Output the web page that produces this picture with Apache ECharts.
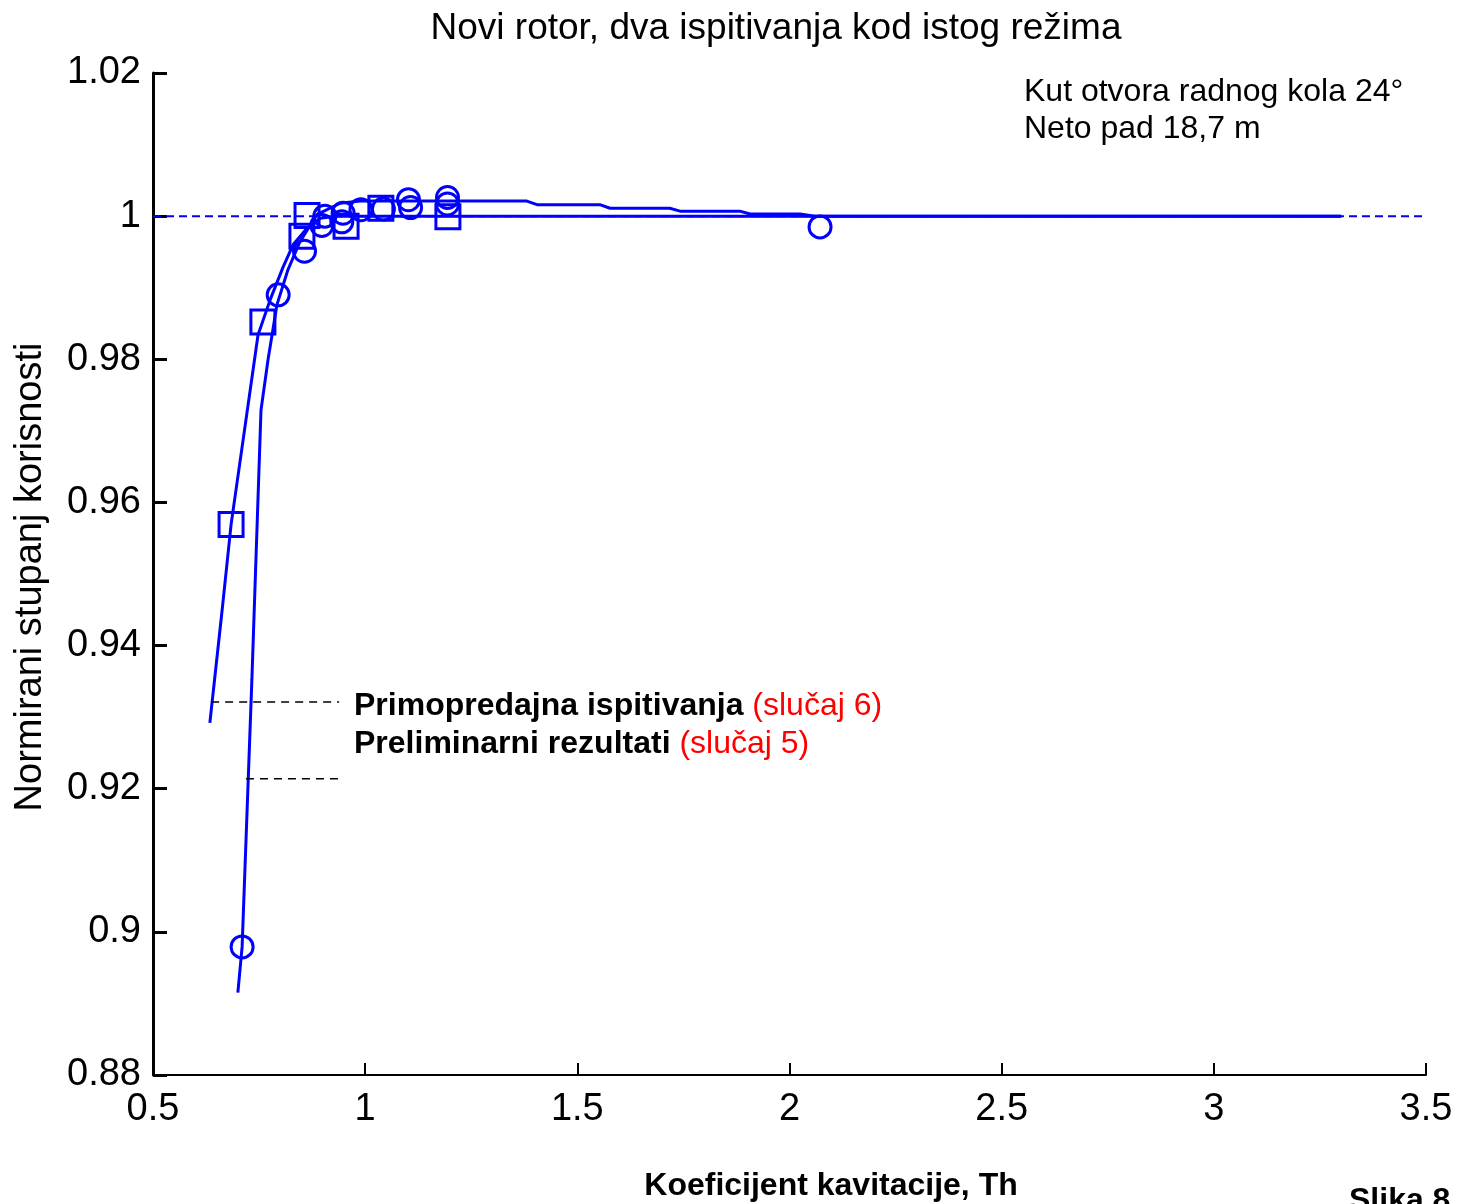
<!DOCTYPE html>
<html>
<head>
<meta charset="utf-8">
<script src="https://cdn.jsdelivr.net/npm/echarts@6/dist/echarts.min.js"></script>
<style>
  html, body { margin: 0; padding: 0; background: #fff; }
  #main { width: 1459px; height: 1204px; }
</style>
</head>
<body>
<div id="main"></div>
<script>
// fitted curve, slucaj 6 (squares)
var sqFitX = [0.634, 0.663, 0.684, 0.7475, 0.776, 0.806, 0.830, 0.863, 0.894, 0.929, 3.30];
var sqFitY = [0.9292, 0.945, 0.9569, 0.9834, 0.9883, 0.9928, 0.9960, 0.9983, 0.9997, 1.0, 1.0];

// fitted curve, slucaj 5 (circles)
var ciFitX = [0.700, 0.710, 0.733, 0.7545, 0.771, 0.792, 0.818, 0.846, 0.886, 0.941, 0.988, 1.381, 1.405, 1.553, 1.577, 1.718, 1.742, 1.883, 1.907, 2.025, 2.060, 3.30];
var ciFitY = [0.8915, 0.8979, 0.9352, 0.9729, 0.9799, 0.9876, 0.9925, 0.9964, 1.0002, 1.0018, 1.0021, 1.0021, 1.0016, 1.0016, 1.0011, 1.0011, 1.0007, 1.0007, 1.0003, 1.0003, 1.0, 1.0];

// measured points
var ciX = [0.710, 0.795, 0.857, 0.898, 0.905, 0.945, 0.948, 0.990, 1.043, 1.102, 1.107, 1.194, 1.194, 2.072];
var ciY = [0.8979, 0.9890, 0.9951, 0.9987, 1.0000, 0.9992, 1.0004, 1.0009, 1.0010, 1.0023, 1.0012, 1.0026, 1.0017, 0.9985];
var sqX = [0.684, 0.759, 0.863, 0.851, 0.955, 1.037, 1.195];
var sqY = [0.9569, 0.9852, 1.0001, 0.9972, 0.9986, 1.0011, 0.9999];

// reference line and legend leaders
var refX = [0.5, 3.5], refY = [1.0, 1.0];
var lead6X = [0.637, 0.9386], lead6Y = [0.9321, 0.9321];
var lead5X = [0.719, 0.9455], lead5Y = [0.9214, 0.9214];

function zip(xs, ys) {
    return xs.map(function (x, i) { return [x, ys[i]]; });
}

var blue = '#0000ff';
var font = '"Liberation Sans", Arial, sans-serif';

var myChart = echarts.init(document.getElementById('main'));
myChart.setOption({
    animation: false,
    backgroundColor: '#fff',
    grid: { left: 153, top: 73, right: 33, bottom: 129 },
    xAxis: {
        type: 'value', min: 0.5, max: 3.5, interval: 0.5,
        axisLine: { lineStyle: { color: '#000', width: 2 } },
        axisTick: { inside: true, length: 12, lineStyle: { color: '#000', width: 2 } },
        axisLabel: { color: '#000', fontSize: 38, fontFamily: font, margin: 16 },
        splitLine: { show: false }
    },
    yAxis: {
        type: 'value', min: 0.88, max: 1.02, interval: 0.02,
        axisLine: { show: true, lineStyle: { color: '#000', width: 3 } },
        axisTick: { show: true, inside: true, length: 14, lineStyle: { color: '#000', width: 3 } },
        axisLabel: { color: '#000', fontSize: 38, fontFamily: font, margin: 12,
            formatter: function (v) { return String(+v.toFixed(2)); } },
        splitLine: { show: false }
    },
    series: [
        {
            type: 'line', data: zip(refX, refY), showSymbol: false, silent: true,
            lineStyle: { color: blue, width: 2, type: [8, 5] }, z: 1
        },
        {
            type: 'line', data: zip(sqFitX, sqFitY), showSymbol: false,
            lineStyle: { color: blue, width: 3 }, z: 2
        },
        {
            type: 'line', data: zip(ciFitX, ciFitY), showSymbol: false,
            lineStyle: { color: blue, width: 3 }, z: 2
        },
        {
            type: 'scatter', data: zip(ciX, ciY), symbol: 'circle', symbolSize: 22,
            itemStyle: { color: 'rgba(0,0,0,0)', borderColor: blue, borderWidth: 3, opacity: 1 }, z: 3
        },
        {
            type: 'scatter', data: zip(sqX, sqY), symbol: 'rect', symbolSize: 24,
            itemStyle: { color: 'rgba(0,0,0,0)', borderColor: blue, borderWidth: 3, opacity: 1 }, z: 3
        },
        {
            type: 'line', data: zip(lead6X, lead6Y), showSymbol: false,
            lineStyle: { color: '#000', width: 1.5, type: [8, 6] }, z: 2
        },
        {
            type: 'line', data: zip(lead5X, lead5Y), showSymbol: false,
            lineStyle: { color: '#000', width: 1.5, type: [8, 6] }, z: 2
        }
    ],
    graphic: [
        { type: 'text', x: 776, y: 29, style: { text: 'Novi rotor, dva ispitivanja kod istog režima',
            font: '37px ' + font, fill: '#000', align: 'center', verticalAlign: 'middle' } },
        { type: 'text', x: 1024, y: 92, style: { text: 'Kut otvora radnog kola 24°',
            font: '32px ' + font, fill: '#000', align: 'left', verticalAlign: 'middle' } },
        { type: 'text', x: 1024, y: 129, style: { text: 'Neto pad 18,7 m',
            font: '32px ' + font, fill: '#000', align: 'left', verticalAlign: 'middle' } },
        { type: 'text', x: 354, y: 706, style: {
            text: '{b|Primopredajna ispitivanja}{r| (slučaj 6)}',
            verticalAlign: 'middle', align: 'left',
            rich: {
                b: { font: 'bold 32px ' + font, fill: '#000' },
                r: { font: '32px ' + font, fill: '#ff0000' }
            } } },
        { type: 'text', x: 354, y: 744, style: {
            text: '{b|Preliminarni rezultati}{r| (slučaj 5)}',
            verticalAlign: 'middle', align: 'left',
            rich: {
                b: { font: 'bold 32px ' + font, fill: '#000' },
                r: { font: '32px ' + font, fill: '#ff0000' }
            } } },
        { type: 'text', x: 31, y: 577, rotation: Math.PI / 2, style: {
            text: 'Normirani stupanj korisnosti',
            font: '38px ' + font, fill: '#000', align: 'center', verticalAlign: 'middle' } },
        { type: 'text', x: 831, y: 1186, style: { text: 'Koeficijent kavitacije, Th',
            font: 'bold 32px ' + font, fill: '#000', align: 'center', verticalAlign: 'middle' } },
        { type: 'text', x: 1349, y: 1201, style: { text: 'Slika 8',
            font: 'bold 32px ' + font, fill: '#000', align: 'left', verticalAlign: 'middle' } }
    ]
});
</script>
</body>
</html>
